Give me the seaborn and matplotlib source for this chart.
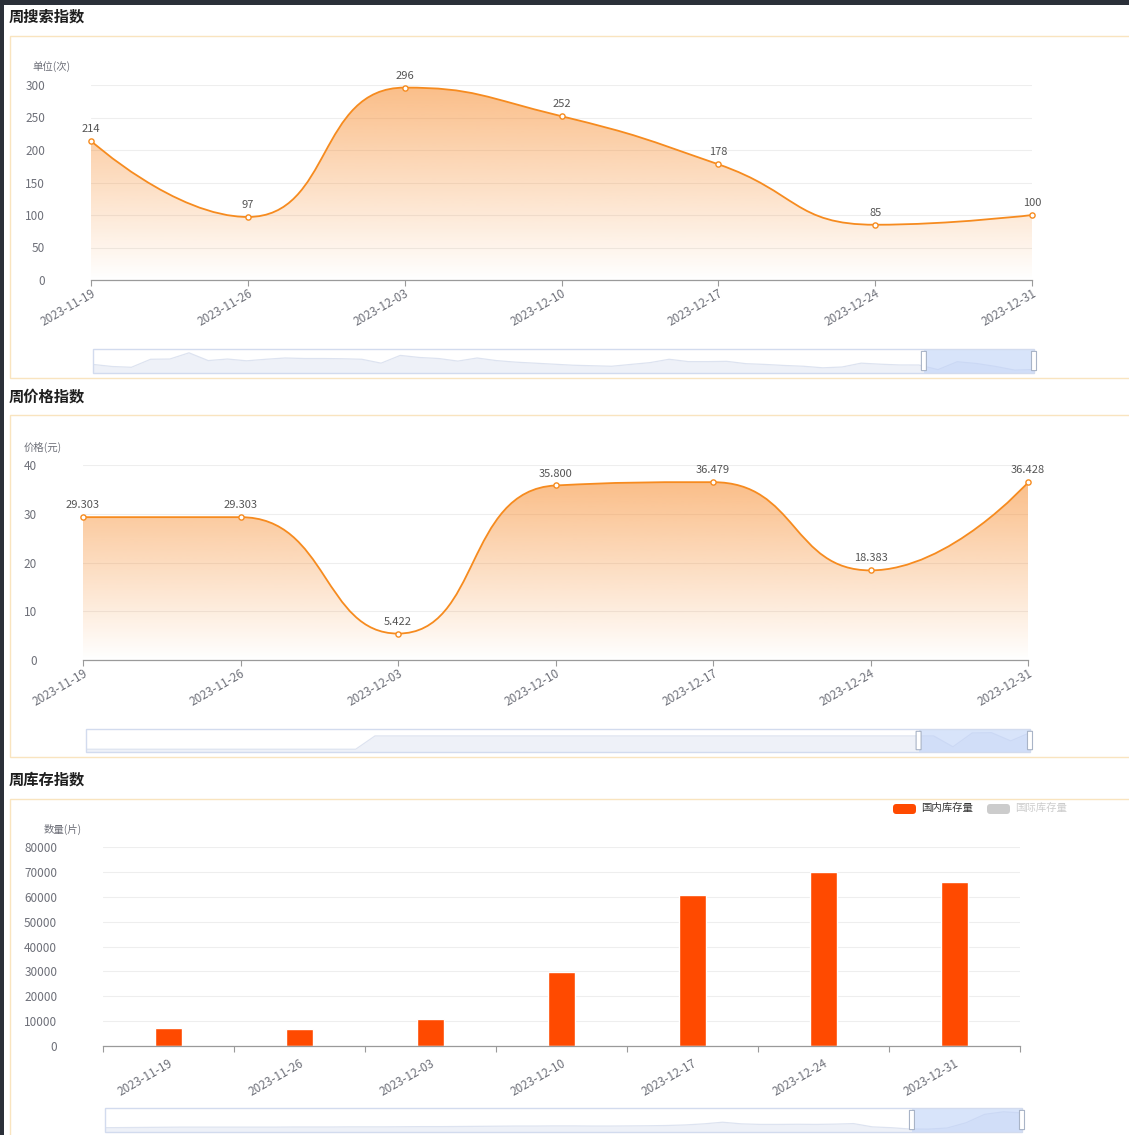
import numpy as np
import pandas as pd
import matplotlib
matplotlib.use("Agg")
import matplotlib.pyplot as plt
import seaborn as sns
from matplotlib.path import Path
from matplotlib.patches import PathPatch, Rectangle, FancyBboxPatch

# ---- data ----
dates = ["2023-11-19", "2023-11-26", "2023-12-03", "2023-12-10",
         "2023-12-17", "2023-12-24", "2023-12-31"]
search_index = [214, 97, 296, 252, 178, 85, 100]
price_index = [29.303, 29.303, 5.422, 35.800, 36.479, 18.383, 36.428]
domestic_stock = [7200, 6800, 10900, 29800, 60700, 70000, 66000]
international_stock = [0, 0, 0, 0, 0, 0, 0]   # series switched off in legend

# longer history shown in the dataZoom thumbnails (visible weeks appended later)
search_history = [228, 176, 156, 358, 364, 520, 325, 364, 319, 358, 390, 377,
                  377, 371, 358, 260, 455, 403, 377, 312, 390, 325, 286, 260,
                  234, 208, 195, 182, 228, 273, 358, 299, 299, 306, 247, 228,
                  202, 182, 143, 163, 260, 234, 215]
price_history = [0, 0, 0, 0, 0, 0, 0, 0, 0, 0, 0, 0, 0, 0, 0,
                 29.303, 29.303, 29.303, 29.303, 29.303, 29.303, 29.303,
                 29.303, 29.303, 29.303, 29.303, 29.303, 29.303, 29.303,
                 29.303, 29.303, 29.303, 29.303, 29.303, 29.303, 29.303,
                 29.303, 29.303, 29.303, 29.303, 29.303, 29.303, 29.303]
stock_history = [12000, 12500, 13000, 13500, 14000, 14000, 14000, 14000, 14000,
                 14000, 14500, 14500, 14500, 15000, 15000, 15000, 15500, 16000,
                 16000, 16500, 17000, 17500, 18000, 18000, 18500, 18500, 18000,
                 18000, 18500, 19000, 20000, 22000, 26000, 32000, 26000, 24000,
                 24000, 24500, 24000, 25000, 27000, 15000, 12000]

W, H = 1129, 1135
LINE_COLOR = "#f68b1f"
BAR_COLOR = "#ff4a00"
TICK_COLOR = "#6e7079"
FONTS = ["Noto Sans CJK SC", "DejaVu Sans"]
TICK_SIZE = 8.5

sns.set_style("white")
plt.rcParams["font.family"] = FONTS

fig = plt.figure(figsize=(W / 100, H / 100), dpi=100)
fig.patch.set_facecolor("white")


def px_axes(left, top, width, height):
    ax = fig.add_axes([left / W, 1 - (top + height) / H, width / W, height / H])
    ax.set_facecolor("none")
    return ax


def px_text(x, y, s, **kw):
    return fig.text(x / W, 1 - y / H, s, **kw)


def px_rect(left, top, width, height, **kw):
    r = Rectangle((left / W, 1 - (top + height) / H), width / W, height / H,
                  transform=fig.transFigure, zorder=-5, **kw)
    fig.patches.append(r)


# dark frame of the screenshot
px_rect(0, 0, W, 5, facecolor="#2b3039", edgecolor="none")
px_rect(0, 0, 4, H, facecolor="#2b3039", edgecolor="none")

# panel boxes and titles
for top, bottom, title_y, title in [(36, 378, 17, "周搜索指数"),
                                    (415, 757, 397, "周价格指数"),
                                    (799, 1150, 780, "周库存指数")]:
    px_rect(10, top, 1130, bottom - top, facecolor="white",
            edgecolor="#f9e4bf", linewidth=1.0)
    px_text(9, title_y, title, fontsize=11, fontweight="bold",
            color="#1f1f1f", va="center", ha="left")


def style_axes(ax, yticks):
    for side in ["top", "right", "left"]:
        ax.spines[side].set_visible(False)
    ax.spines["bottom"].set_color("#9a9a9a")
    ax.spines["bottom"].set_linewidth(0.9)
    ax.set_yticks(yticks)
    ax.tick_params(axis="y", length=0, pad=33, labelsize=TICK_SIZE,
                   labelcolor=TICK_COLOR)
    ax.yaxis.grid(True, color="#eeeeee", linewidth=0.8)
    ax.xaxis.grid(False)
    ax.set_axisbelow(True)
    ax.set_xlabel("")
    ax.set_ylabel("")


def echarts_smooth(ax, xs, ys, smooth=0.5):
    pts = ax.transData.transform(np.column_stack([xs, ys]))
    n = len(pts)
    verts = [pts[0]]
    codes = [Path.MOVETO]
    cp0 = pts[0]
    for i in range(1, n):
        p, prev = pts[i], pts[i - 1]
        if i == n - 1:
            cp1, ncp0 = p, None
        else:
            nxt = pts[i + 1]
            v = (nxt - prev) * smooth
            lp = np.hypot(*(p - prev))
            ln = np.hypot(*(nxt - p))
            r = ln / (ln + lp)
            ncp0 = p + v * r
            ncp0 = np.maximum(np.minimum(ncp0, np.maximum(nxt, p)), np.minimum(nxt, p))
            vv = ncp0 - p
            cp1 = p - vv * lp / ln
            cp1 = np.maximum(np.minimum(cp1, np.maximum(prev, p)), np.minimum(prev, p))
            vv = p - cp1
            ncp0 = p + vv * ln / lp
        verts += [cp0, cp1, p]
        codes += [Path.CURVE4] * 3
        cp0 = ncp0
    verts = ax.transData.inverted().transform(np.array(verts))
    return verts, codes


def area_line_panel(rect, values, ymax, yticks, unit_label, unit_xy, fmt):
    ax = px_axes(*rect)
    n = len(values)
    xs = np.arange(n)
    ax.set_xlim(0, n - 1)
    ax.set_ylim(0, ymax)
    style_axes(ax, yticks)

    verts, codes = echarts_smooth(ax, xs, values)
    curve = Path(verts, codes)
    # gradient area under the curve
    area_verts = np.vstack([verts, [[xs[-1], 0], [xs[0], 0], [xs[0], 0]]])
    area_codes = codes + [Path.LINETO, Path.LINETO, Path.CLOSEPOLY]
    area = PathPatch(Path(area_verts, area_codes), facecolor="none",
                     edgecolor="none", transform=ax.transData)
    ax.add_patch(area)
    top = curve.get_extents().y1
    grad = np.zeros((256, 1, 4))
    grad[..., 0] = 247 / 255
    grad[..., 1] = 137 / 255
    grad[..., 2] = 40 / 255
    grad[..., 3] = np.linspace(0.0, 0.55, 256)[:, None]
    im = ax.imshow(grad, extent=[xs[0], xs[-1], 0, top], origin="lower",
                   aspect="auto", zorder=1, interpolation="bilinear")
    im.set_clip_path(area)
    ax.add_patch(PathPatch(curve, facecolor="none", edgecolor=LINE_COLOR,
                           linewidth=1.3, zorder=3))

    df = pd.DataFrame({"x": xs, "y": values})
    sns.scatterplot(data=df, x="x", y="y", ax=ax, s=14, color="white",
                    edgecolor=LINE_COLOR, linewidth=1.0, zorder=4, clip_on=False)
    for x, y in zip(xs, values):
        ax.annotate(fmt.format(y), (x, y), xytext=(0, 5), textcoords="offset points",
                    ha="center", va="bottom", fontsize=8, color="#555555",
                    zorder=5, annotation_clip=False)

    ax.set_xlim(0, n - 1)
    ax.set_ylim(0, ymax)
    ax.set_xticks(xs)
    ax.set_xticklabels(dates, rotation=30, ha="right", va="top",
                       rotation_mode="anchor")
    ax.tick_params(axis="x", length=4, width=0.8, color="#9a9a9a", pad=1,
                   labelsize=TICK_SIZE, labelcolor=TICK_COLOR, direction="out",
                   bottom=True)
    ax.set_xlabel("")
    ax.set_ylabel("")
    px_text(unit_xy[0], unit_xy[1], unit_label, fontsize=7.5, color=TICK_COLOR,
            ha="left", va="center")
    return ax


def slider(rect, history, visible, sel_start):
    ax = px_axes(*rect)
    ax.set_xlim(0, 1)
    ax.set_ylim(0, 1)
    ax.axis("off")
    v = np.asarray(list(history) + list(visible), dtype=float)
    pos = np.linspace(0, 1, len(v))
    f = 0.12 + 0.72 * (v - v.min()) / (v.max() - v.min())
    ax.fill_between(pos, 0, f, color="#eef1f8", linewidth=0, zorder=1)
    ax.plot(pos, f, color="#dde3f0", linewidth=0.9, zorder=2)
    ax.add_patch(Rectangle((sel_start, 0), 1 - sel_start, 1, facecolor="#bfd2f8",
                           alpha=0.6, edgecolor="none", zorder=3))
    ax.add_patch(Rectangle((0, 0), 1, 1, facecolor="none", edgecolor="#d2dbee",
                           linewidth=1.0, zorder=4, clip_on=False))
    hw = 5 / rect[2]
    for hx in (sel_start, 1):
        ax.add_patch(FancyBboxPatch((hx - hw / 2, 0.1), hw, 0.8,
                                    boxstyle="round,pad=0,rounding_size=0.002",
                                    facecolor="white", edgecolor="#a9b4c7",
                                    linewidth=0.8, zorder=5, clip_on=False))


# ---- panel 1: search index ----
area_line_panel((91, 85, 941, 195), search_index, 300, [0, 50, 100, 150, 200, 250, 300],
                "单位(次)", (32, 67), "{:d}")
slider((93, 349, 941, 24), search_history, search_index, 0.883)

# ---- panel 2: price index ----
area_line_panel((83, 465, 945, 195), price_index, 40, [0, 10, 20, 30, 40],
                "价格(元)", (24, 447), "{:.3f}")
slider((86, 729, 944, 23), price_history, price_index, 0.882)

# ---- panel 3: stock bars ----
ax3 = px_axes(103, 847, 917, 199)
stock_df = pd.DataFrame({"date": dates, "qty": domestic_stock})
sns.barplot(data=stock_df, x="date", y="qty", color=BAR_COLOR, saturation=1,
            width=0.2, ax=ax3)
ax3.set_xlim(-0.5, len(dates) - 0.5)
ax3.set_ylim(0, 80000)
style_axes(ax3, np.arange(0, 80001, 10000))
ax3.tick_params(axis="y", pad=33)
ax3.set_xticks(np.arange(len(dates)))
ax3.set_xticklabels(dates, rotation=30, ha="right", va="top", rotation_mode="anchor")
ax3.tick_params(axis="x", which="major", length=0, pad=8, labelsize=TICK_SIZE,
                labelcolor=TICK_COLOR)
ax3.set_xticks(np.arange(len(dates) + 1) - 0.5, minor=True)
ax3.tick_params(axis="x", which="minor", length=4, width=0.8, color="#9a9a9a",
                direction="out", bottom=True)
px_text(44, 829, "数量(片)", fontsize=7.5, color=TICK_COLOR, ha="left", va="center")

# legend (second series is toggled off, so greyed)
for lx, label, sw_color, txt_color in [(893, "国内库存量", BAR_COLOR, "#333333"),
                                       (987, "国际库存量", "#cccccc", "#cccccc")]:
    patch = FancyBboxPatch((lx / W, 1 - 814 / H), 23 / W, 10 / H,
                           boxstyle="round,pad=0,rounding_size=0.003",
                           transform=fig.transFigure, facecolor=sw_color,
                           edgecolor="none")
    fig.patches.append(patch)
    px_text(lx + 28, 808, label, fontsize=7.5, color=txt_color, ha="left", va="center")

slider((105, 1108, 917, 24), stock_history, domestic_stock, 0.88)

fig.savefig("out.png", dpi=100, facecolor="white")
